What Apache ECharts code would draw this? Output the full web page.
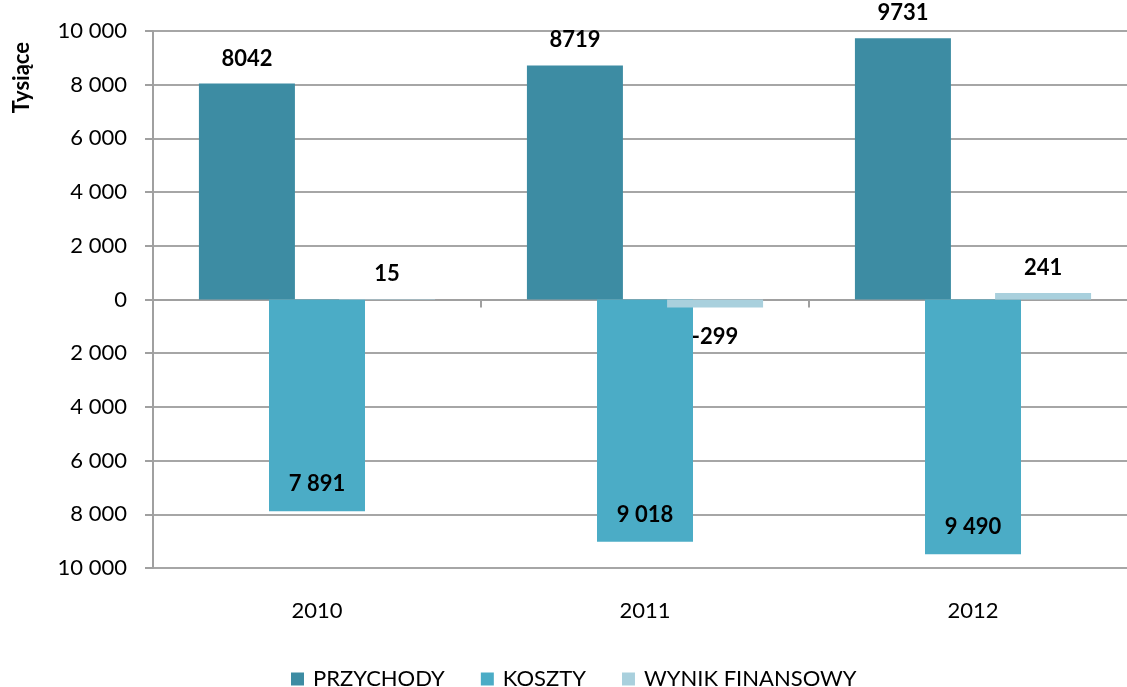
<!DOCTYPE html>
<html>
<head>
<meta charset="utf-8">
<script src="https://cdn.jsdelivr.net/npm/echarts@6/dist/echarts.min.js"></script>
<style>
html, body { margin: 0; padding: 0; background: #fff; }
#chart { width: 1127px; height: 687px; }
</style>
</head>
<body>
<div id="chart"></div>
<script>
const years = ['2010', '2011', '2012']
const przychody = [8042, 8719, 9731]
const koszty = [-7891, -9018, -9490]
const wynik = [15, -299, 241]
const seriesNames = ['PRZYCHODY', 'KOSZTY', 'WYNIK FINANSOWY']
const colors = ['#3D8CA3', '#4BACC6', '#A9D0DD']

// liczby ze spacją jako separatorem tysięcy
function spaced (v) {
    return String(Math.abs(v)).replace(/\B(?=(\d{3})+(?!\d))/g, ' ')
}

const font = 'Lato'
const labelStyle = {
    show: true,
    color: '#000',
    fontFamily: font,
    fontWeight: 'bold',
    fontSize: 22
}

let myChart = echarts.init(document.getElementById('chart'))
let option = {
    color: colors,
    textStyle: { fontFamily: font },
    animation: false,
    grid: {
        left: 153,
        width: 984,
        top: 31,
        bottom: 119,
        outerBoundsMode: 'none'
    },
    legend: {
        data: seriesNames,
        top: 668,
        left: 291,
        padding: 0,
        itemWidth: 13,
        itemHeight: 13,
        itemGap: 36,
        icon: 'rect',
        textStyle: { color: '#000', fontSize: 22, fontFamily: font, padding: [0, 0, 0, 4] }
    },
    graphic: [{
        type: 'text',
        left: 11,
        top: 42,
        rotation: Math.PI / 2,
        style: {
            text: 'Tysiące',
            fill: '#000',
            fontFamily: font,
            fontWeight: 'bold',
            fontSize: 22
        }
    }],
    xAxis: [
        {
            type: 'category',
            data: years,
            axisLine: { onZero: true, lineStyle: { color: '#A0A0A0', width: 2 } },
            axisTick: { show: true, length: 8, lineStyle: { color: '#A0A0A0', width: 2 } },
            axisLabel: { show: false }
        },
        {
            type: 'category',
            data: years,
            position: 'bottom',
            axisLine: { show: false },
            axisTick: { show: false },
            axisLabel: { color: '#000', fontSize: 22, margin: 32 }
        }
    ],
    yAxis: {
        type: 'value',
        min: -10000,
        max: 10000,
        interval: 2000,
        axisLine: { show: true, lineStyle: { color: '#A0A0A0', width: 2 } },
        axisTick: { show: true, length: 8, lineStyle: { color: '#A0A0A0', width: 2 } },
        splitLine: { lineStyle: { color: '#A6A6A6', width: 2 } },
        axisLabel: {
            color: '#000',
            fontSize: 22,
            margin: 26,
            formatter: v => spaced(v)
        }
    },
    series: [
        {
            name: seriesNames[0],
            type: 'bar',
            data: przychody,
            barWidth: 96,
            barGap: '-27%',
            label: Object.assign({}, labelStyle, { position: 'top', distance: 14 })
        },
        {
            name: seriesNames[1],
            type: 'bar',
            data: koszty,
            barWidth: 96,
            barGap: '-27%',
            label: Object.assign({}, labelStyle, {
                position: 'insideBottom',
                distance: 16,
                formatter: p => spaced(p.value)
            })
        },
        {
            name: seriesNames[2],
            type: 'bar',
            data: wynik.map(v => ({
                value: v,
                label: { position: v < 0 ? 'bottom' : 'top', distance: v < 0 ? 18 : 14 }
            })),
            barWidth: 96,
            barGap: '-27%',
            label: Object.assign({}, labelStyle, { position: 'top', distance: 14 })
        }
    ]
}
myChart.setOption(option)
window.onresize = myChart.resize
</script>
</body>
</html>
